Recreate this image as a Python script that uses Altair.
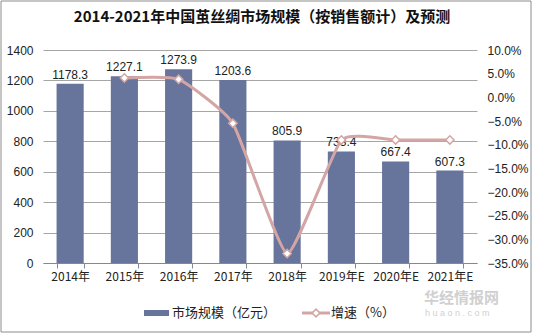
import altair as alt
import pandas as pd

years = ["2014年", "2015年", "2016年", "2017年", "2018年", "2019年E", "2020年E", "2021年E"]
scale_vals = [1178.3, 1227.1, 1273.9, 1203.6, 805.9, 733.4, 667.4, 607.3]
growth = [None, 0.041, 0.038, -0.055, -0.330, -0.090, -0.090, -0.090]

df = pd.DataFrame({"year": years, "scale": scale_vals, "growth": growth})
df["label"] = df["scale"].map(lambda v: f"{v:.1f}")

BAR = "#67749B"
LINE = "#D4A5A5"
FONT = "Liberation Sans"
CJK = "Noto Sans CJK SC"

W, H = 434, 213

x = alt.X("year:N", sort=years, title=None,
          scale=alt.Scale(paddingInner=0.5, paddingOuter=0.25),
          axis=alt.Axis(labelAngle=0, labelFont=CJK, labelFontSize=12, labelColor="#222",
                        domainColor="#888", tickColor="#888", tickBand="extent",
                        tickSize=5, labelPadding=3, grid=False))

y_left = alt.Y("scale:Q", title=None,
               scale=alt.Scale(domain=[0, 1400], nice=False),
               axis=alt.Axis(values=list(range(0, 1401, 200)), format="d", labelFont=FONT, labelFontSize=12,
                             labelColor="#222", domain=False, ticks=False, labelPadding=10,
                             grid=True, gridColor="#A6A6A6"))

base = alt.Chart(df)

bars = base.mark_bar(color=BAR).encode(x=x, y=y_left)
labels = base.mark_text(dy=-9, font=FONT, fontSize=12, color="#222").encode(
    x=x, y=alt.Y("scale:Q", scale=alt.Scale(domain=[0, 1400], nice=False), axis=None), text="label:N")

y_right = alt.Y("growth:Q", title=None,
                scale=alt.Scale(domain=[-0.35, 0.10], nice=False),
                axis=alt.Axis(orient="right", format=".1%", values=[0.10, 0.05, 0.0, -0.05, -0.10, -0.15,
                                                                      -0.20, -0.25, -0.30, -0.35],
                              labelFont=FONT, labelFontSize=12, labelColor="#222", labelAlign="left",
                              domain=False, ticks=False, labelPadding=10, grid=False))

line = base.transform_filter("datum.growth != null").mark_line(
    color=LINE, strokeWidth=3, interpolate="cardinal", tension=0.55).encode(x=x, y=y_right)
pts = base.transform_filter("datum.growth != null").mark_point(
    shape="diamond", size=70, filled=True, fill="white", stroke=LINE, strokeWidth=1.5, opacity=1
).encode(x=x, y=alt.Y("growth:Q", scale=alt.Scale(domain=[-0.35, 0.10], nice=False), axis=None))

# decorations: title, border, legend, watermark
one = pd.DataFrame({"k": [0]})
deco = alt.Chart(one)
title = deco.mark_text(text="2014-2021年中国茧丝绸市场规模（按销售额计）及预测", font=CJK, fontSize=15,
                       fontWeight="bold", color="#111").encode(x=alt.value(219), y=alt.value(-33))
border = deco.mark_rect(fill="transparent", stroke="#8C8C8C", strokeWidth=1).encode(
    x=alt.value(-42), y=alt.value(-49), x2=alt.value(488), y2=alt.value(282))
leg_bar = deco.mark_rect(color=BAR).encode(x=alt.value(101), x2=alt.value(126), y=alt.value(260), y2=alt.value(266))
leg_t1 = deco.mark_text(text="市场规模（亿元）", font=CJK, fontSize=13, align="left", color="#222").encode(
    x=alt.value(129), y=alt.value(263))
leg_line = deco.mark_rule(color=LINE, strokeWidth=3).encode(x=alt.value(259), x2=alt.value(287), y=alt.value(263))
leg_pt = deco.mark_point(shape="diamond", size=60, filled=True, fill="white", stroke=LINE, strokeWidth=1.5,
                         opacity=1).encode(x=alt.value(273), y=alt.value(263))
leg_t2 = deco.mark_text(text="增速（%）", font=CJK, fontSize=13, align="left", color="#222").encode(
    x=alt.value(288), y=alt.value(263))
wm1 = deco.mark_text(text="华经情报网", font=CJK, fontSize=15, fontWeight="bold", align="left",
                     color="#D0D0D0").encode(x=alt.value(381), y=alt.value(248))
wm2 = deco.mark_text(text="h u a o n . c o m", font=FONT, fontSize=9, align="left",
                     color="#D0D0D0").encode(x=alt.value(382), y=alt.value(263))

chart = alt.layer(bars, labels, line, pts, title, border, leg_bar, leg_t1, leg_line, leg_pt, leg_t2,
                  wm1, wm2).resolve_scale(
    y="independent"
).properties(
    width=W, height=H,
    autosize=alt.AutoSizeParams(type="none"),
    padding={"left": 43, "top": 50, "right": 59, "bottom": 73},
    background="white",
).configure_view(stroke=None)

chart.save("out.html", embed_options={"renderer": "svg", "actions": False})
